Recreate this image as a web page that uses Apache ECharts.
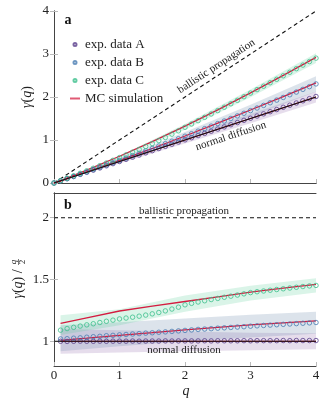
<!DOCTYPE html>
<html>
<head>
<meta charset="utf-8">
<script src="https://cdn.jsdelivr.net/npm/echarts@6/dist/echarts.min.js"></script>
<style>
  html, body { margin: 0; padding: 0; background: #fff; }
  #chart { width: 325px; height: 405px; }
</style>
</head>
<body>
<div id="chart"></div>
<script>
// measured q points (both panels)
const qValues = [0.1, 0.2, 0.3, 0.4, 0.5, 0.6, 0.7, 0.8, 0.9, 1.0,
  1.1, 1.2, 1.3, 1.4, 1.5, 1.6, 1.7, 1.8, 1.9, 2.0,
  2.1, 2.2, 2.3, 2.4, 2.5, 2.6, 2.7, 2.8, 2.9, 3.0,
  3.1, 3.2, 3.3, 3.4, 3.5, 3.6, 3.7, 3.8, 3.9, 4.0]
// gamma(q) / (q/2)
const ratioA = [1.000, 0.999, 1.000, 1.001, 1.000, 1.000, 1.001, 1.000, 1.001, 1.001,
  1.001, 1.002, 1.001, 1.002, 1.002, 1.002, 1.003, 1.002, 1.003, 1.003,
  1.003, 1.003, 1.004, 1.003, 1.004, 1.004, 1.004, 1.004, 1.005, 1.004,
  1.005, 1.005, 1.005, 1.005, 1.006, 1.005, 1.006, 1.006, 1.006, 1.006]
const ratioB = [1.019, 1.021, 1.025, 1.028, 1.033, 1.037, 1.040, 1.045, 1.048, 1.052,
  1.055, 1.059, 1.062, 1.066, 1.069, 1.073, 1.076, 1.080, 1.084, 1.088,
  1.092, 1.096, 1.099, 1.102, 1.106, 1.109, 1.112, 1.115, 1.118, 1.122,
  1.125, 1.128, 1.131, 1.134, 1.137, 1.140, 1.143, 1.146, 1.149, 1.152]
const ratioC = [1.090, 1.103, 1.113, 1.123, 1.133, 1.142, 1.152, 1.162, 1.171, 1.181,
  1.188, 1.195, 1.203, 1.212, 1.222, 1.233, 1.246, 1.261, 1.276, 1.295,
  1.307, 1.318, 1.328, 1.338, 1.347, 1.356, 1.365, 1.374, 1.384, 1.394,
  1.401, 1.407, 1.413, 1.419, 1.425, 1.431, 1.437, 1.443, 1.448, 1.452]

// MC simulation (ratio)
const qModel = [0.1, 0.5, 1, 1.5, 2, 2.5, 3, 3.5, 4]
const modelA = [1, 1, 1, 1, 1, 1, 1, 1, 1]
const modelB = [1.008, 1.025, 1.048, 1.07, 1.093, 1.113, 1.132, 1.149, 1.165]
const modelC = [1.145, 1.19, 1.245, 1.285, 1.322, 1.36, 1.398, 1.43, 1.46]

// shaded uncertainty bands (ratio)
const qBand = [0.1, 1, 2, 3, 4]
const bandALow = [0.9, 0.91, 0.92, 0.928, 0.935]
const bandAHigh = [1.1, 1.09, 1.08, 1.07, 1.065]
const bandBLow = [0.92, 0.96, 1.0, 1.03, 1.06]
const bandBHigh = [1.13, 1.155, 1.185, 1.215, 1.24]
const bandCLow = [1.05, 1.13, 1.24, 1.33, 1.395]
const bandCHigh = [1.21, 1.26, 1.37, 1.45, 1.51]

const xTicks = [0, 1, 2, 3, 4]
const yTicksTop = [0, 1, 2, 3, 4]
const yTicksBottom = [1, 1.5, 2]

const colA = '#5a3f8c'
const colB = '#4a7db3'
const colC = '#3cbf8c'
const colMC = '#d41c40'
const serif = 'Liberation Serif'

// top panel shows gamma(q) = ratio * q / 2
function toPairs(xs, ys, gamma) {
  return xs.map((x, i) => [x, gamma ? ys[i] * x / 2 : ys[i]])
}

function bandSeries(lo, hi, fill, g) {
  let pts = qBand.map((q, i) => g == 0 ? [q, lo[i] * q / 2, hi[i] * q / 2] : [q, lo[i], hi[i]])
  if (g == 0) pts.unshift([0, 0, 0])
  return {
    type: 'custom',
    xAxisIndex: g,
    yAxisIndex: g,
    silent: true,
    z: 1,
    data: pts,
    renderItem: function (params, api) {
      if (params.dataIndex !== 0) return null
      let up = pts.map(p => api.coord([p[0], p[2]]))
      let dn = pts.map(p => api.coord([p[0], p[1]])).reverse()
      return { type: 'polygon', shape: { points: up.concat(dn) }, style: { fill: fill } }
    }
  }
}

function expSeries(name, ys, color, g) {
  let data = toPairs(qValues, ys, g == 0)
  if (g == 0) data.unshift([0, 0])
  return {
    name: name,
    type: 'scatter',
    xAxisIndex: g,
    yAxisIndex: g,
    symbol: 'circle',
    symbolSize: 4.5,
    z: 4,
    itemStyle: { color: 'rgba(255,255,255,0)', borderColor: color, borderWidth: 1 },
    data: data
  }
}

function mcSeries(ys, g) {
  return {
    name: 'MC simulation',
    type: 'line',
    xAxisIndex: g,
    yAxisIndex: g,
    symbol: 'none',
    z: 3,
    lineStyle: { color: colMC, width: 1.3 },
    itemStyle: { color: colMC },
    data: g == 0 ? [[0, 0]].concat(toPairs(qModel, ys, true)) : toPairs(qModel, ys, false)
  }
}

function refLine(data, dashed, g) {
  return {
    type: 'line',
    xAxisIndex: g,
    yAxisIndex: g,
    symbol: 'none',
    silent: true,
    z: dashed ? 2 : 5,
    lineStyle: { color: '#111', width: 1.1, type: dashed ? [4, 3] : 'solid' },
    data: data
  }
}

const frame = { show: true, lineStyle: { color: '#444', width: 1 } }
const tick = { show: true, inside: true, length: 4, lineStyle: { color: '#bbb' } }
const lbl = { color: '#222', fontFamily: serif, fontSize: 13 }

let myChart = echarts.init(document.getElementById('chart'))
let option = {
  animation: false,
  grid: [
    { left: 54, top: 11, width: 262, height: 172 },
    { left: 54, top: 193, width: 262, height: 173 }
  ],
  legend: {
    orient: 'vertical',
    left: 64,
    top: 33,
    itemWidth: 10,
    itemHeight: 3,
    itemGap: 5,
    textStyle: { fontFamily: serif, fontSize: 13, color: '#222' },
    data: [
      'exp. data A', 'exp. data B', 'exp. data C',
      // line icon only, no marker in the middle
      { name: 'MC simulation', itemStyle: { color: 'rgba(0,0,0,0)', borderWidth: 0 }, lineStyle: { width: 2, color: '#e05a74' } }
    ]
  },
  xAxis: [
    { type: 'value', gridIndex: 0, min: 0, max: 4, interval: 1, axisLine: frame, axisTick: tick, axisLabel: { show: false }, splitLine: { show: false } },
    { type: 'value', gridIndex: 1, min: 0, max: 4, interval: 1, axisLine: frame, axisTick: tick, axisLabel: Object.assign({ margin: 3 }, lbl, { customValues: xTicks }), splitLine: { show: false } },
    { type: 'value', gridIndex: 0, position: 'top', min: 0, max: 4, axisLine: frame, axisTick: { show: false }, axisLabel: { show: false }, splitLine: { show: false } },
    { type: 'value', gridIndex: 1, position: 'top', min: 0, max: 4, axisLine: frame, axisTick: { show: false }, axisLabel: { show: false }, splitLine: { show: false } }
  ],
  yAxis: [
    { type: 'value', gridIndex: 0, min: 0, max: 4, interval: 1, axisLine: frame, axisTick: tick, axisLabel: Object.assign({ margin: 5 }, lbl, { customValues: yTicksTop }), splitLine: { show: false } },
    { type: 'value', gridIndex: 1, min: 0.8, max: 2.2, axisLine: frame, axisTick: Object.assign({ customValues: yTicksBottom }, tick), axisLabel: Object.assign({ margin: 5 }, lbl, { customValues: yTicksBottom, formatter: v => String(v) }), splitLine: { show: false } },
    { type: 'value', gridIndex: 0, position: 'right', min: 0, max: 4, interval: 1, axisLine: frame, axisTick: tick, axisLabel: { show: false }, splitLine: { show: false } },
    { type: 'value', gridIndex: 1, position: 'right', min: 0.8, max: 2.2, axisLine: frame, axisTick: Object.assign({ customValues: yTicksBottom }, tick), axisLabel: { show: false }, splitLine: { show: false } }
  ],
  series: []
}

// bands
option.series.push(bandSeries(bandALow, bandAHigh, 'rgba(140,100,170,0.22)', 0))
option.series.push(bandSeries(bandBLow, bandBHigh, 'rgba(110,140,170,0.24)', 0))
option.series.push(bandSeries(bandCLow, bandCHigh, 'rgba(70,200,140,0.20)', 0))
option.series.push(bandSeries(bandALow, bandAHigh, 'rgba(140,100,170,0.22)', 1))
option.series.push(bandSeries(bandBLow, bandBHigh, 'rgba(110,140,170,0.24)', 1))
option.series.push(bandSeries(bandCLow, bandCHigh, 'rgba(70,200,140,0.20)', 1))

// reference lines
option.series.push(refLine([[0, 0], [4, 4]], true, 0))
option.series.push(refLine([[0, 2], [4, 2]], true, 1))

// data + model, both panels
;[0, 1].forEach((g) => {
  option.series.push(expSeries('exp. data A', ratioA, colA, g))
  option.series.push(expSeries('exp. data B', ratioB, colB, g))
  option.series.push(expSeries('exp. data C', ratioC, colC, g))
  option.series.push(mcSeries(modelA, g))
  option.series.push(mcSeries(modelB, g))
  option.series.push(mcSeries(modelC, g))
})

option.series.push(refLine([[0, 0], [4, 2]], false, 0))
option.series.push(refLine([[0, 1], [4, 1]], false, 1))

myChart.setOption(option)

// text annotations placed along the reference lines
let px = (g, pt) => myChart.convertToPixel({ gridIndex: g }, pt)
let o0 = px(0, [0, 0])
let b1 = px(0, [4, 4])
let n1 = px(0, [4, 2])
let angB = Math.atan2(o0[1] - b1[1], b1[0] - o0[0])
let angN = Math.atan2(o0[1] - n1[1], n1[0] - o0[0])
let pB = px(0, [2.55, 2.55])
let pN = px(0, [2.65, 1.325])
let pB2 = px(1, [2, 2])
let pN2 = px(1, [2, 1])
let txt = { fontFamily: serif, fontSize: 11, fill: '#222', align: 'center' }

myChart.setOption({
  graphic: [
    { type: 'text', x: pB[0], y: pB[1], rotation: angB, z: 10, style: Object.assign({ text: 'ballistic propagation', verticalAlign: 'bottom', y: -3 }, txt) },
    { type: 'text', x: pN[0], y: pN[1], rotation: angN, z: 10, style: Object.assign({ text: 'normal diffusion', verticalAlign: 'top', y: 5 }, txt) },
    { type: 'text', x: pB2[0] - 1, y: pB2[1] - 7, z: 10, style: Object.assign({ text: 'ballistic propagation', verticalAlign: 'middle' }, txt) },
    { type: 'text', x: pN2[0] - 1, y: pN2[1] + 9, z: 10, style: Object.assign({ text: 'normal diffusion', verticalAlign: 'middle' }, txt) },
    { type: 'text', x: 68, y: 20, z: 10, style: { text: 'a', font: 'bold 14px "Liberation Serif"', fill: '#111', align: 'center', verticalAlign: 'middle' } },
    { type: 'text', x: 68, y: 205, z: 10, style: { text: 'b', font: 'bold 14px "Liberation Serif"', fill: '#111', align: 'center', verticalAlign: 'middle' } },
    // axis titles
    { type: 'text', x: 186, y: 391, style: { text: 'q', font: 'italic 14px "Liberation Serif"', fill: '#222', align: 'center', verticalAlign: 'middle' } },
    {
      type: 'text', x: 27, y: 97, rotation: Math.PI / 2,
      style: {
        text: '{i|γ}{n|(}{i|q}{n|)}', align: 'center', verticalAlign: 'middle',
        rich: {
          i: { fontFamily: serif, fontStyle: 'italic', fontSize: 14, fill: '#222' },
          n: { fontFamily: serif, fontSize: 14, fill: '#222' }
        }
      }
    },
    {
      type: 'group', x: 18, y: 279, rotation: Math.PI / 2,
      children: [
        {
          type: 'text', x: -5, y: 0,
          style: {
            text: '{i|γ}{n|(}{i|q}{n|) /}', align: 'center', verticalAlign: 'middle',
            rich: {
              i: { fontFamily: serif, fontStyle: 'italic', fontSize: 14, fill: '#222' },
              n: { fontFamily: serif, fontSize: 14, fill: '#222' }
            }
          }
        },
        { type: 'text', x: 17, y: -4, style: { text: 'q', font: 'italic 9px "Liberation Serif"', fill: '#222', align: 'center', verticalAlign: 'middle' } },
        { type: 'rect', shape: { x: 14, y: 0, width: 6, height: 0.6 }, style: { fill: '#222' } },
        { type: 'text', x: 17, y: 5, style: { text: '2', font: '9px "Liberation Serif"', fill: '#222', align: 'center', verticalAlign: 'middle' } }
      ]
    }
  ]
})

window.addEventListener('resize', () => myChart.resize())
</script>
</body>
</html>
